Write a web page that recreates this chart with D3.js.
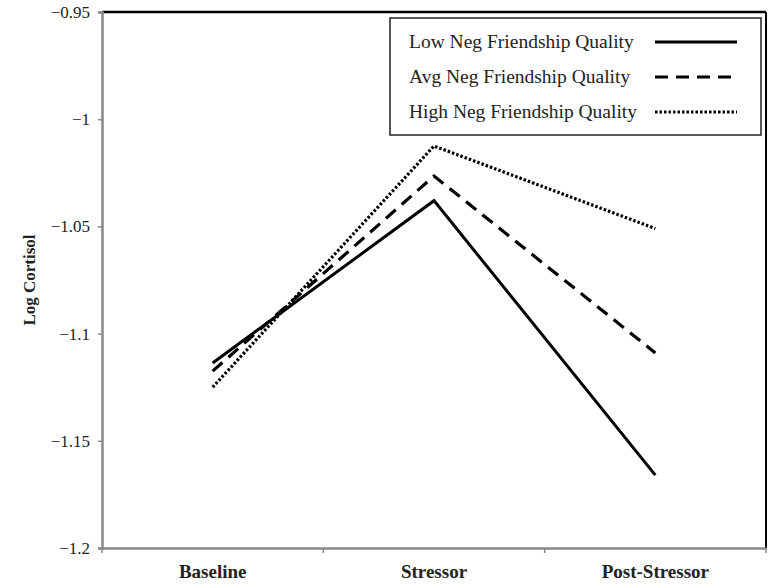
<!DOCTYPE html>
<html>
<head>
<meta charset="utf-8">
<script src="https://cdn.jsdelivr.net/npm/d3@7"></script>
<style>
  body { margin: 0; background: #fff; }
  svg { display: block; font-family: "Liberation Serif", "Times New Roman", serif; }
  .cat-label { font-size: 19px; font-weight: bold; fill: #222; }
  .axis-title { font-size: 17px; font-weight: bold; fill: #222; }
  .legend-label { font-size: 19.5px; fill: #222; }
</style>
</head>
<body>
<svg width="771" height="588"></svg>
<script>
const categories = ['Baseline', 'Stressor', 'Post-Stressor'];
const seriesNames = ['Low Neg Friendship Quality', 'Avg Neg Friendship Quality', 'High Neg Friendship Quality'];
const lowValues = [-1.1137, -1.038, -1.166];
const avgValues = [-1.1175, -1.0265, -1.109];
const highValues = [-1.125, -1.0125, -1.051];
const yTicks = [-0.95, -1, -1.05, -1.1, -1.15, -1.2];
const yTickLabels = ['\u22120.95', '\u22121', '\u22121.05', '\u22121.1', '\u22121.15', '\u22121.2'];

const svg = d3.select('svg');

const margin = { top: 12, right: 5, bottom: 40, left: 102 };
const innerWidth = 771 - margin.left - margin.right;
const innerHeight = 588 - margin.top - margin.bottom;

const g = svg.append('g')
    .attr('transform', `translate(${margin.left},${margin.top})`);

const xScale = d3.scaleBand()
    .domain(categories)
    .range([0, innerWidth])
    .padding(0);

const yScale = d3.scaleLinear()
    .domain([-1.2, -0.95])
    .range([innerHeight, 0]);

// top and right frame
g.append('line')
    .attr('x1', 0).attr('x2', innerWidth)
    .attr('y1', 0).attr('y2', 0)
    .attr('stroke', '#000').attr('stroke-width', 2.5);
g.append('line')
    .attr('x1', innerWidth).attr('x2', innerWidth)
    .attr('y1', 0).attr('y2', innerHeight)
    .attr('stroke', '#000').attr('stroke-width', 2);

// y axis
const yAxis = d3.axisLeft(yScale)
    .tickValues(yTicks)
    .tickSize(4)
    .tickFormat((d, i) => yTickLabels[i]);

const yG = g.append('g').call(yAxis);
yG.select('.domain').attr('stroke', '#888').attr('stroke-width', 2.5);
yG.selectAll('.tick line').attr('stroke', '#888').attr('stroke-width', 1.5);
yG.selectAll('.tick text')
    .attr('x', -12)
    .attr('fill', '#222')
    .style('font-family', '"Liberation Serif", "Times New Roman", serif')
    .style('font-size', '17px');

// x axis
const xAxis = d3.axisBottom(xScale).tickSize(0).tickFormat('');
const xG = g.append('g')
    .attr('transform', `translate(0,${innerHeight})`)
    .call(xAxis);
xG.select('.domain').attr('stroke', '#888').attr('stroke-width', 2.5);
xG.selectAll('.tick').remove();

// boundary ticks between categories
const boundaries = [0, ...categories.map(c => xScale(c) + xScale.bandwidth())];
xG.selectAll('.bound')
    .data(boundaries)
    .enter()
    .append('line')
    .attr('x1', d => d).attr('x2', d => d)
    .attr('y1', 0).attr('y2', 5)
    .attr('stroke', '#888').attr('stroke-width', 1.5);

xG.selectAll('.cat-label')
    .data(categories)
    .enter()
    .append('text')
    .attr('class', 'cat-label')
    .style('font-family', '"Liberation Serif", "Times New Roman", serif')
    .attr('x', d => xScale(d) + xScale.bandwidth() / 2)
    .attr('y', 30)
    .attr('text-anchor', 'middle')
    .text(d => d);

// y axis label
svg.append('text')
    .attr('class', 'axis-title')
    .attr('transform', 'rotate(-90)')
    .attr('x', -280)
    .attr('y', 35)
    .attr('text-anchor', 'middle')
    .text('Log Cortisol');

// lines
const series = [
    { name: seriesNames[0], values: lowValues, dash: null, width: 3 },
    { name: seriesNames[1], values: avgValues, dash: '13,8', width: 3.2 },
    { name: seriesNames[2], values: highValues, dash: '2.5,2', width: 3.2 }
];

const line = d3.line()
    .x((d, i) => xScale(categories[i]) + xScale.bandwidth() / 2)
    .y(d => yScale(d));

g.selectAll('.series')
    .data(series)
    .enter()
    .append('path')
    .attr('class', 'series')
    .attr('fill', 'none')
    .attr('stroke', '#000')
    .attr('stroke-width', d => d.width)
    .attr('stroke-dasharray', d => d.dash)
    .attr('d', d => line(d.values));

// legend
const legend = svg.append('g').attr('transform', 'translate(390,18)');
legend.append('rect')
    .attr('width', 371).attr('height', 117)
    .attr('fill', '#fff')
    .attr('stroke', '#222').attr('stroke-width', 1.5);

const items = legend.selectAll('.item')
    .data(series)
    .enter()
    .append('g')
    .attr('transform', (d, i) => `translate(0,${24 + i * 35})`);

items.append('text')
    .attr('class', 'legend-label')
    .attr('x', 19)
    .attr('y', 6)
    .text(d => d.name);

items.append('line')
    .attr('x1', 265).attr('x2', 347)
    .attr('y1', 0).attr('y2', 0)
    .attr('stroke', '#000')
    .attr('stroke-width', d => d.width)
    .attr('stroke-dasharray', d => d.dash);
</script>
</body>
</html>
